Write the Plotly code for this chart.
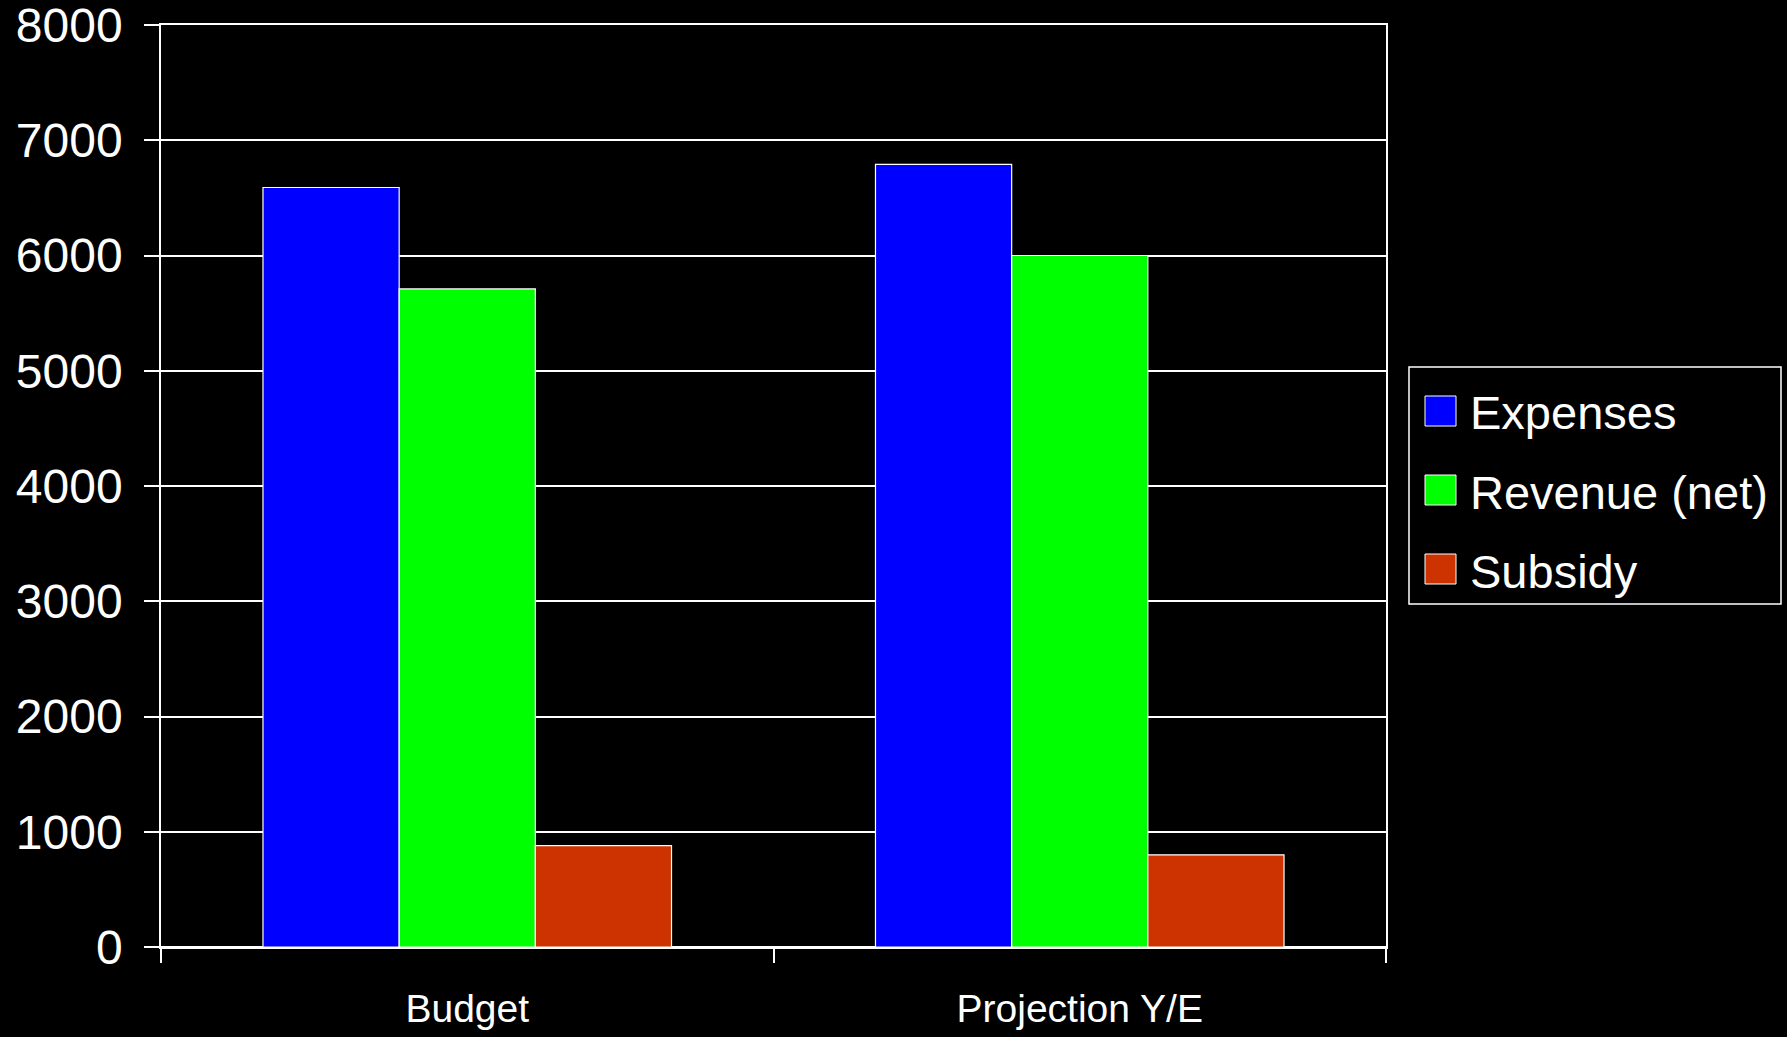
import plotly.graph_objects as go

# Chart data
categories = ["Budget", "Projection Y/E"]
series_names = ["Expenses", "Revenue (net)", "Subsidy"]
expenses = [6590, 6790]
revenue_net = [5710, 6000]
subsidy = [880, 800]
series_values = [expenses, revenue_net, subsidy]
series_colors = ["#0000FF", "#00FF00", "#CC3300"]
y_ticks = [0, 1000, 2000, 3000, 4000, 5000, 6000, 7000, 8000]

W, H = 1787, 1037
M_L, M_R, M_T, M_B = 161, 401, 25, 90
plot_w = W - M_L - M_R
plot_h = H - M_T - M_B

fig = go.Figure()
for name, vals, color in zip(series_names, series_values, series_colors):
    fig.add_trace(go.Bar(
        x=categories, y=vals, name=name,
        marker=dict(color=color, line=dict(color="white", width=1.2)),
        showlegend=False,
    ))


def px_x(px):
    return (px - M_L) / plot_w


def px_y(py):
    return (M_T + plot_h - py) / plot_h


# Legend box with large swatches
shapes = [dict(type="rect", xref="paper", yref="paper",
               x0=px_x(1409), x1=px_x(1781), y0=px_y(604), y1=px_y(367),
               line=dict(color="white", width=1.5), fillcolor="black")]
annotations = []
row_centers = [411, 490, 569]
for name, color, cy in zip(series_names, series_colors, row_centers):
    shapes.append(dict(type="rect", xref="paper", yref="paper",
                       x0=px_x(1425), x1=px_x(1456),
                       y0=px_y(cy + 15), y1=px_y(cy - 15),
                       line=dict(color="white", width=1), fillcolor=color))
    annotations.append(dict(xref="paper", yref="paper", x=px_x(1468), y=px_y(cy + 2),
                            xanchor="left", yanchor="middle", showarrow=False,
                            text=name,
                            font=dict(family="Liberation Sans, Arial", size=47, color="white")))

fig.update_layout(
    width=W, height=H,
    margin=dict(l=M_L, r=M_R, t=M_T, b=M_B),
    paper_bgcolor="black", plot_bgcolor="black",
    barmode="group", bargap=0.333, bargroupgap=0,
    shapes=shapes, annotations=annotations,
    font=dict(family="Liberation Sans, Arial", color="white"),
)
fig.update_yaxes(
    range=[0, 8000], tickvals=y_ticks, ticktext=[str(v) for v in y_ticks],
    automargin=False,
    showgrid=True, gridcolor="white", gridwidth=1.5,
    zeroline=True, zerolinecolor="white", zerolinewidth=1.5,
    showline=True, mirror=True, linecolor="white", linewidth=1.5,
    ticks="outside", ticklen=15, tickcolor="white", tickwidth=1.5,
    ticklabelstandoff=12, ticklabeloverflow="allow",
    tickfont=dict(family="Liberation Sans, Arial", size=48, color="white"),
)
fig.update_xaxes(
    automargin=False,
    showline=True, mirror=True, linecolor="white", linewidth=1.5,
    ticks="outside", tickson="boundaries", ticklen=14, tickcolor="white", tickwidth=1.5,
    ticklabelstandoff=26, ticklabeloverflow="allow",
    tickfont=dict(family="Liberation Sans Narrow, Arial Narrow, Liberation Sans", size=39, color="white"),
    showgrid=False,
)

fig.write_html("out.html")
